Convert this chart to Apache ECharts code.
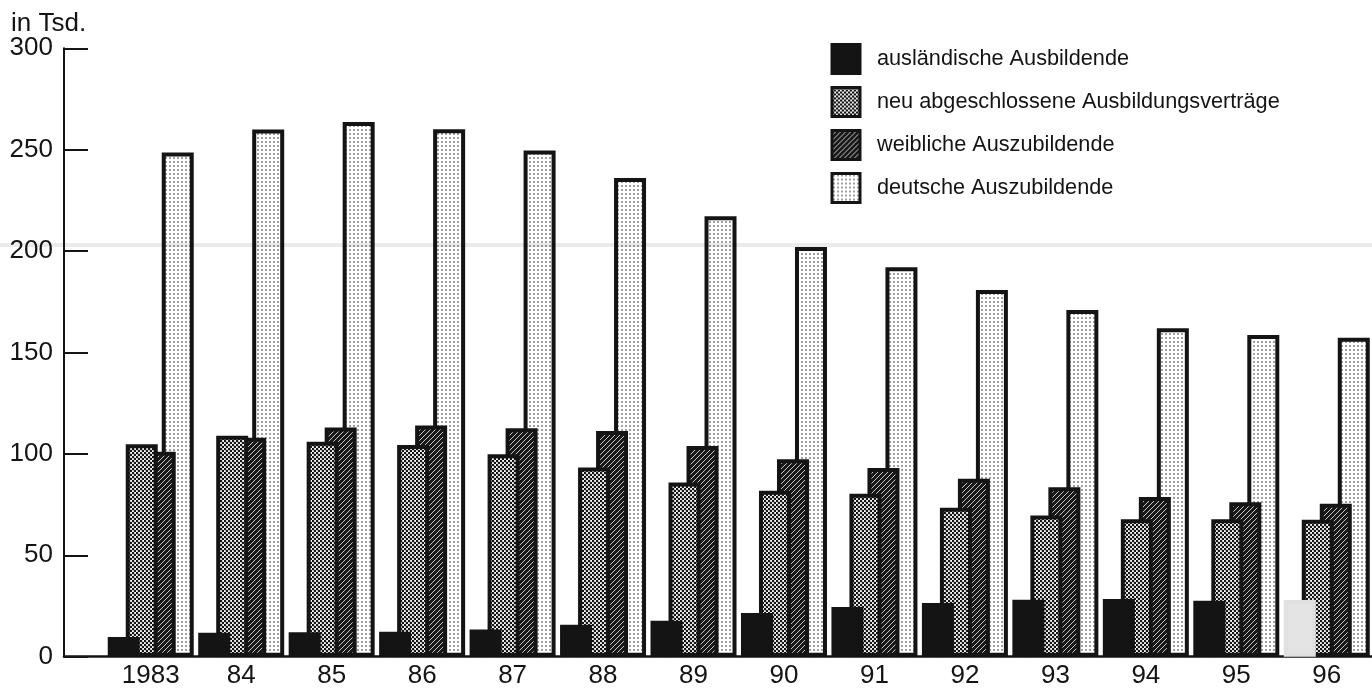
<!DOCTYPE html>
<html>
<head>
<meta charset="utf-8">
<script src="https://cdn.jsdelivr.net/npm/echarts@6/dist/echarts.min.js"></script>
<style>
  html, body { margin: 0; padding: 0; background: #fff; }
  #chart { width: 1372px; height: 689px; }
</style>
</head>
<body>
<div id="chart"></div>
<script>
// Ausbildung in Tsd., 1983–1996
const years = ['1983', '84', '85', '86', '87', '88', '89', '90', '91', '92', '93', '94', '95', '96'];
const auslaendische = [9.7, 11.8, 12, 12.3, 13.4, 15.7, 17.7, 21.5, 24.5, 26.5, 28.1, 28.4, 27.6, 28];
const neuVertraege = [104.8, 109, 106, 104.4, 99.8, 93.3, 85.9, 81.8, 80.3, 73.4, 69.6, 67.8, 67.8, 67.5];
const weibliche = [101.1, 108, 113, 114, 112.7, 111.3, 103.9, 97.4, 93, 87.7, 83.6, 78.7, 76.2, 75.4];
const deutsche = [248.6, 259.9, 263.7, 260.1, 249.6, 236.1, 217.2, 202, 192, 180.8, 171, 162, 158.6, 157.3];
const yTicks = [0, 50, 100, 150, 200, 250, 300];

const FONT = '"Liberation Sans", Arial, Helvetica, sans-serif';
const INK = '#141414';

// small repeating raster tiles for the screened fills
function tile(size, paint) {
  const c = document.createElement('canvas');
  c.width = c.height = size;
  paint(c.getContext('2d'));
  return { image: c, repeat: 'repeat' };
}
const mediumDots = tile(4, g => {
  g.fillStyle = '#fff'; g.fillRect(0, 0, 4, 4);
  g.fillStyle = '#151515';
  g.beginPath(); g.arc(1, 1, 1.3, 0, Math.PI * 2); g.fill();
  g.beginPath(); g.arc(3, 3, 1.3, 0, Math.PI * 2); g.fill();
});
const darkHatch = tile(5, g => {
  g.fillStyle = '#181818'; g.fillRect(0, 0, 5, 5);
  g.strokeStyle = 'rgba(255,255,255,0.75)'; g.lineWidth = 1;
  g.beginPath(); g.moveTo(-1, 6); g.lineTo(6, -1); g.stroke();
});
const lightDots = tile(4, g => {
  g.fillStyle = '#fff'; g.fillRect(0, 0, 4, 4);
  g.fillStyle = '#2a2a2a';
  g.beginPath(); g.arc(2, 2, 0.8, 0, Math.PI * 2); g.fill();
});

const BAR_W = 32;
const BORDER = 4;

function barSeries(name, values, fill, z) {
  return {
    name: name,
    type: 'bar',
    xAxisIndex: 0,
    yAxisIndex: 0,
    data: values,
    barWidth: BAR_W,
    barGap: '-43.75%',
    z: z,
    itemStyle: { color: fill, borderColor: INK, borderWidth: BORDER },
    emphasis: { disabled: true },
    animation: false
  };
}

// the last foreign-trainee bar is printed washed out
const auslData = auslaendische.map((v, i) => i === auslaendische.length - 1
  ? { value: v, itemStyle: { color: '#e4e4e4', borderColor: '#e0e0e0' } }
  : v);

const chart = echarts.init(document.getElementById('chart'), null, { renderer: 'canvas' });

chart.setOption({
  backgroundColor: '#fff',
  animation: false,
  textStyle: { fontFamily: FONT, color: INK },
  title: {
    text: 'in Tsd.',
    left: 11, top: 11, padding: 0,
    textStyle: { fontFamily: FONT, fontSize: 26, fontWeight: 'normal', color: INK }
  },
  legend: {
    data: ['ausländische Ausbildende', 'neu abgeschlossene Ausbildungsverträge', 'weibliche Auszubildende', 'deutsche Auszubildende'],
    orient: 'vertical',
    left: 825.5, top: 38,
    icon: 'rect',
    itemWidth: 28, itemHeight: 29, itemGap: 11,
    selectedMode: false,
    itemStyle: { borderWidth: 3, borderColor: INK },
    textStyle: { fontFamily: FONT, fontSize: 21.7, color: INK, padding: [0, 0, 0, 12] }
  },
  grid: [
    { left: 105.5, right: -5.1, top: 48.3, bottom: 32.3 },
    { left: 64, right: 0, top: 48.3, bottom: 32.3 }
  ],
  xAxis: [
    {
      type: 'category', gridIndex: 0, data: years,
      axisLine: { show: false },
      axisTick: { show: false },
      axisLabel: { fontFamily: FONT, fontSize: 26, color: INK, margin: 6, interval: 0 }
    },
    {
      type: 'value', gridIndex: 1, min: 0, max: 1,
      axisLine: { show: true, onZero: false, lineStyle: { color: INK, width: 2.5 } },
      axisTick: { show: false }, axisLabel: { show: false }, splitLine: { show: false }
    }
  ],
  yAxis: [
    {
      type: 'value', gridIndex: 0, min: yTicks[0], max: yTicks[yTicks.length - 1], interval: 50,
      offset: 41.5,
      axisLine: { show: true, lineStyle: { color: INK, width: 2 } },
      axisTick: { show: true, inside: true, length: 24, lineStyle: { color: INK, width: 2 } },
      axisLabel: { fontFamily: FONT, fontSize: 26, color: INK, margin: 11 },
      splitLine: { show: false }
    },
    { type: 'value', gridIndex: 1, show: false, min: 0, max: 1 }
  ],
  graphic: [
    {
      type: 'rect', silent: true, z: 100,
      shape: { x: 0, y: 243, width: 1372, height: 4 },
      style: { fill: 'rgba(0,0,0,0.08)' }
    }
  ],
  series: [
    barSeries('ausländische Ausbildende', auslData, INK, 8),
    barSeries('neu abgeschlossene Ausbildungsverträge', neuVertraege, mediumDots, 7),
    barSeries('weibliche Auszubildende', weibliche, darkHatch, 6),
    barSeries('deutsche Auszubildende', deutsche, lightDots, 5)
  ]
});
</script>
</body>
</html>
